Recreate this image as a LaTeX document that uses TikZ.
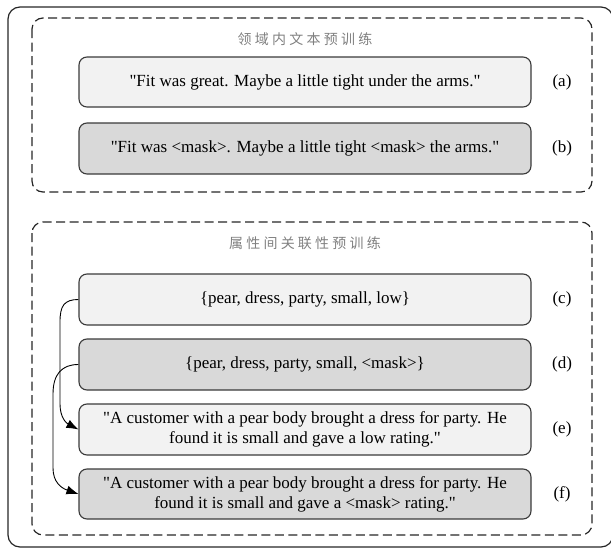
\documentclass[tikz,border=0pt]{standalone}
\usepackage{fontspec}
\setmainfont{Liberation Serif}
\newfontfamily\cjk[LetterSpace=23]{Noto Sans CJK SC}
\usetikzlibrary{arrows.meta}
\definecolor{lightbox}{HTML}{F2F2F2}
\definecolor{darkbox}{HTML}{D9D9D9}
\definecolor{edge}{HTML}{3A3A3A}
\newcommand{\dq}{\XeTeXglyph\XeTeXcharglyph"22\relax}
\tikzset{
  textbox/.style={draw=edge, line width=1.1pt, rounded corners=8pt, minimum width=452pt, align=center, inner sep=0pt, font=\fontsize{17pt}{20pt}\selectfont},
  lightfill/.style={textbox, fill=lightbox},
  darkfill/.style={textbox, fill=darkbox},
  group/.style={draw=black!85, line width=1.2pt, dash pattern=on 9pt off 4.5pt, rounded corners=11pt},
  grouptitle/.style={font=\cjk\fontsize{14pt}{16pt}\selectfont, text=black!50},
  tag/.style={font=\fontsize{17pt}{20pt}\selectfont},
  link/.style={line width=0.9pt, -{Latex[length=12pt,width=9pt]}}
}
\begin{document}
\begin{tikzpicture}[x=1pt,y=-1pt]
\useasboundingbox (0,0) rectangle (611,549);
\clip (0,0) rectangle (611,549);
% outer frame
\draw[draw=black!85, line width=1.2pt, rounded corners=12pt] (8,7) rectangle (613,547);
% groups
\draw[group] (32,18) rectangle (592,192);
\draw[group] (32,222) rectangle (592,535);
\node[grouptitle] (t1) at (305,39) {领域内文本预训练};
\node[grouptitle] (t2) at (305,243) {属性间关联性预训练};
% boxes
\node[lightfill, minimum height=50pt] (a) at (305,82) {\dq Fit was great. Maybe a little tight under the arms.\dq};
\node[darkfill, minimum height=51pt] (b) at (305,148.5) {\dq Fit was <mask>. Maybe a little tight <mask> the arms.\dq};
\node[lightfill, minimum height=51pt] (c) at (305,299.5) {\{pear, dress, party, small, low\}};
\node[darkfill, minimum height=51pt] (d) at (305,364.5) {\{pear, dress, party, small, <mask>\}};
\node[lightfill, minimum height=51pt] (e) at (305,429.5) {\dq A customer with a pear body brought a dress for party. He\\found it is small and gave a low rating.\dq};
\node[darkfill, minimum height=50pt] (f) at (305,494) {\dq A customer with a pear body brought a dress for party. He\\found it is small and gave a <mask> rating.\dq};
% tags
\node[tag] (la) at (562,82) {(a)};
\node[tag] (lb) at (562,148.5) {(b)};
\node[tag] (lc) at (562,299.5) {(c)};
\node[tag] (ld) at (562,364.5) {(d)};
\node[tag] (le) at (562,429.5) {(e)};
\node[tag] (lf) at (562,494) {(f)};
% connectors
\draw[link] (c.west) .. controls (64,299.5) and (60,306) .. (60,322) -- (60,404) .. controls (60,417) and (66,423) .. (e.west);
\draw[link] (d.west) .. controls (62,364.5) and (53,374) .. (53,394) -- (53,468) .. controls (53,482) and (61,488) .. (f.west);
\end{tikzpicture}
\end{document}
